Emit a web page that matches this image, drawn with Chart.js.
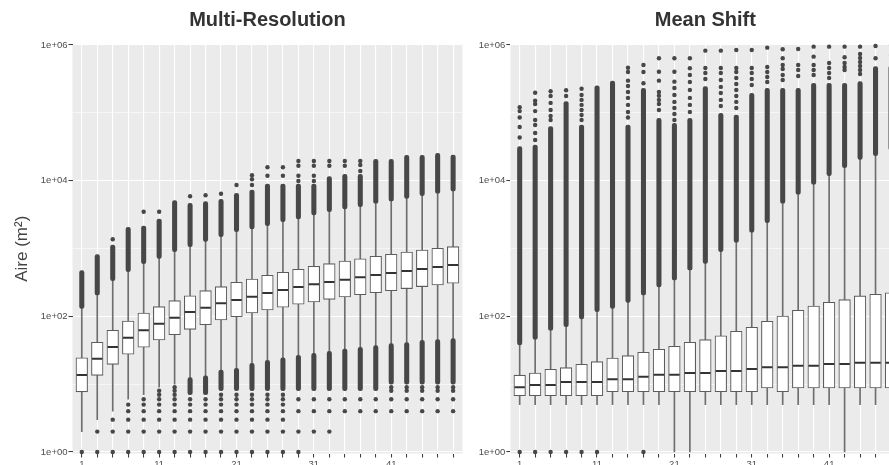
<!DOCTYPE html>
<html><head><meta charset="utf-8">
<script src="https://cdn.jsdelivr.net/npm/chart.js@4/dist/chart.umd.min.js"></script>
<style>
html,body{margin:0;padding:0;background:#fff;overflow:hidden;width:889px;height:465px;position:relative;}
#c1{position:absolute;left:0;top:0;}
#c2{position:absolute;left:470px;top:0;}
</style></head><body>
<canvas id="c1" width="470" height="465"></canvas>
<canvas id="c2" width="440" height="465"></canvas>
<script>
// ---------- categories & ticks ----------
const categories = [1,3,5,7,9,11,13,15,17,19,21,23,25,27,29,31,33,35,37,39,41,43,45,47,49];
const xTickLabels = [1,11,21,31,41];
const yGridValues = [1,10,100,1000,10000,100000,1000000];
const yTickLabels = ['1e+00','','1e+02','','1e+04','','1e+06'];
const panelTitles = ['Multi-Resolution','Mean Shift'];
const yAxisTitle = 'Aire (m²)';

// ---------- Multi-Resolution ----------
const mrQ1  = [7.7,13.5,19.6,27.6,35,44.8,53.6,64.4,75.3,88.3,98.8,112,124,136,151,163,178,193,208,223,239,256,274,290,307];
const mrMed = [13.6,23.7,35.3,48.4,62.3,77.9,95.5,116,134,156,174,195,221,244,271,297,321,347,376,407,435,466,499,534,571];
const mrQ3  = [24.5,41.4,62.3,85.4,112,139,170,201,239,274,318,355,403,446,494,547,597,654,707,768,822,889,951,1007,1064];
const mrWhiskLo = [2,3,4,6,7,9,10,12.5,13.3,16.2,17.1,20.3,22.5,24.5,26.7,28.5,30.5,33,35,36.9,39.5,40.9,44.4,45.3,46.8];
const mrWhiskHi = [131,206,335,455,597,717,898,1064,1277,1493,1770,1940,2170,2485,2723,3120,3490,3823,4134,4645,5013,5495,6010,6516,7040];
const mrHiBandTop = [471,811,1127,2055,2148,2723,5070,4645,4898,5318,6516,7295,8935,8935,8935,8935,11450,12420,12420,20650,20650,23660,23660,25330,23920];
const mrLoBandBottom = [null,null,null,null,null,null,null,7,7,8,8,8,8,8,8,8,8,8,8,8,10,10,10,10,10];
const mrLowDots = [[1],[1,2],[1,2,3],[1,2,3,4,5],[1,2,3,4,5,6],[1,2,3,4,5,6,7,8],[1,2,3,4,5,6,7,8,9],
  [1,2,3,4,5,6],[1,2,3,4,5,6],[1,2,3,4,5,6,7],[1,2,3,4,5,6,7],[1,2,3,4,5,6,7],[1,2,3,4,5,6,7],[1,2,3,4,5,6,7],
  [1,2,4,6],[2,4,6],[2,4,6],[4,6],[4,6],[4,6],[4,6,8,9],[4,6,8,9],[4,6,8,9],[4,6,8,9],[4,6,8,9]];
const mrHighDots = [[],[],[1367],[],[3490],[3490],[],[5888],[6084],[6430],[8635],[8635,10480,11990],[11840,15740],[11840,15740],
  [9890,11840,16630,19500],[9890,11840,16630,19500],[16630,19500],[16630,19500],[13900,17030,19500],[],[],[],[],[],[]];

// ---------- Mean Shift ----------
const msQ1  = [6.76,6.76,6.76,6.76,6.76,6.76,7.74,7.74,7.74,7.74,7.74,7.74,7.74,7.74,7.74,7.74,8.79,7.74,8.79,8.79,8.79,8.79,8.79,8.79,8.79];
const msMed = [9.0,9.7,9.7,10.8,10.8,10.8,11.8,11.8,12.9,13.8,13.8,14.6,14.6,15.6,15.6,16.7,17.7,17.7,18.7,18.7,19.8,19.8,20.7,20.7,20.7];
const msQ3  = [13.6,14.6,16.6,17.5,19.6,21.5,24.3,26.3,29.5,32.7,36.2,41.4,45.3,51.8,60.1,68.9,84.5,101,123,142,161,176,200,211,223];
const msWhiskLo = [5,5,5,5,5,5,5,5,5,5,1,1,5,5,5,5,5,5,5,5,5,1,5,5,5];
const msWhiskHi = [37.8,45.9,62.3,70.4,91.4,117,131,161,206,271,343,482,605,898,1235,1734,2400,4645,6300,8850,11840,15540,20650,23330,28300];
const msHiBandTop = [31700,33600,62500,146000,66200,251000,295000,66200,230000,83100,70100,83100,243000,98500,92900,194000,230000,230000,230000,273000,273000,273000,288000,479000,491000];
const msLoBandBottom = [null,null,null,null,null,null,null,null,null,null,null,null,null,null,null,null,null,null,null,null,null,null,null,null,null];
const msLowDots = [[1],[1],[1],[1],[1],[1],[],[],[1],[],[],[],[],[],[],[],[],[],[],[],[],[],[],[],[]];
const msHighDots = [
  [121000,106000,85300,61800,43300],
  [198000,151000,135000,106000,78500,66200,50500,39800],
  [208000,177000,140000,110000,89900,78500],
  [215000,177000],
  [227000,183000,155000,131000,110000,92900,78500],
  [],[],
  [463000,400000,298000,249000,203000,166000,131000,103000,85300],
  [508000,400000,273000],
  [637000,404000,298000,203000,179000,155000,135000,110000],
  [637000,404000,288000,232000,183000,145000,118000,96200,78500],
  [637000,454000,361000,285000,217000,166000,131000,103000],
  [825000,458000,387000,316000],
  [825000,458000,387000,305000,241000,196000,155000,126000],
  [845000,458000,400000,326000,266000,217000,177000,145000,118000],
  [845000,458000,387000,316000,257000],
  [914000,475000,400000,338000,285000],
  [865000,637000,508000,443000,361000,305000],
  [874000,508000,428000,349000],
  [945000,673000,508000,428000,361000],
  [945000,543000,458000,387000,326000],
  [945000,659000,543000,475000,428000],
  [945000,738000,644000,562000,491000,428000,374000],
  [968000,637000],
  [1000000,713000]
];

// ---------- helpers ----------
Chart.defaults.font.family = "'Liberation Sans', Arial, sans-serif";
const DOT = '#474747';

function rangeData(lo, hi){
  return categories.map((c,i)=> (lo[i]==null || hi[i]==null) ? null : {x:c, y:[lo[i], hi[i]]}).filter(d=>d);
}
function dotData(lists){
  const out=[]; lists.forEach((arr,i)=>arr.forEach(v=>out.push({x:categories[i], y:v}))); return out;
}
function buildDatasets(q1, med, q3, wLo, wHi, hiTop, loBottom, lowDots, highDots){
  return [
    {type:'bar', data:rangeData(wLo,wHi), backgroundColor:'#6e6e6e', barThickness:1, grouped:false, order:6},
    {type:'bar', data:rangeData(wHi,hiTop), backgroundColor:DOT, barThickness:4.4, borderRadius:2.2, borderSkipped:false, grouped:false, order:5, clip:false},
    {type:'bar', data:rangeData(loBottom,wLo), backgroundColor:DOT, barThickness:4.4, borderRadius:2.2, borderSkipped:false, grouped:false, order:5, clip:false},
    {type:'bar', data:rangeData(q1,q3), backgroundColor:'#ffffff', borderColor:'#5c5c5c', borderWidth:1.1, borderSkipped:false, barThickness:11.6, grouped:false, order:3},
    {type:'line', data:categories.map((c,i)=>({x:c,y:med[i]})), showLine:false, pointStyle:'line', pointRadius:5.2, pointHoverRadius:5.2, pointBorderWidth:2, pointBorderColor:'#333333', order:2},
    {type:'line', data:dotData(lowDots).concat(dotData(highDots)), showLine:false, pointRadius:2.2, pointHoverRadius:2.2, pointBackgroundColor:DOT, pointBorderWidth:0, order:1, clip:false}
  ];
}

const panelBg = {
  id:'panelBg',
  beforeDraw(chart){
    const {ctx, chartArea:a} = chart;
    ctx.save(); ctx.fillStyle='#EBEBEB';
    ctx.fillRect(a.left, a.top, a.right-a.left, a.bottom-a.top);
    ctx.restore();
  }
};

function makeOptions(title, yWidth, padRight, showYTitle){
  return {
    responsive:false, animation:false, devicePixelRatio:1,
    layout:{padding:{left:0, right:padRight, top:0, bottom:0}},
    plugins:{
      legend:{display:false}, tooltip:{enabled:false},
      title:{display:true, text:title, fullSize:false, color:'#333333',
        font:{size:20, weight:'bold'}, padding:{top:8, bottom:12}}
    },
    scales:{
      x:{
        type:'linear', min:-0.2, max:50.2, offset:false,
        afterBuildTicks:(s)=>{ s.ticks = categories.map(v=>({value:v})); },
        afterFit:(s)=>{ s.height = 11.5; },
        border:{display:false},
        grid:{offset:false, color:'#ffffff', lineWidth:1.1, drawTicks:true, tickLength:4, tickColor:'#333333', tickWidth:1},
        ticks:{autoSkip:false, maxRotation:0, padding:1, color:'#4d4d4d', font:{size:9.5},
          callback:(v)=> xTickLabels.includes(v) ? String(v) : ''}
      },
      y:{
        type:'logarithmic', min:0.9504, max:1.0345e6,
        afterBuildTicks:(s)=>{ s.ticks = yGridValues.map(v=>({value:v})); },
        afterFit:(s)=>{ s.width = yWidth; },
        border:{display:false},
        grid:{color:'#ffffff',
          lineWidth:(c)=> (c.tick && yTickLabels[yGridValues.indexOf(c.tick.value)]) ? 1.1 : 0.55,
          drawTicks:true, tickLength:4, tickWidth:1,
          tickColor:(c)=> (c.tick && yTickLabels[yGridValues.indexOf(c.tick.value)]) ? '#333333' : 'rgba(0,0,0,0)'},
        ticks:{autoSkip:false, padding:1, color:'#4d4d4d', font:{size:9.5},
          callback:(v)=> yTickLabels[yGridValues.indexOf(v)] || ''},
        title:{display:showYTitle, text:yAxisTitle, color:'#444444', font:{size:17}, padding:{top:12, bottom:0}}
      }
    }
  };
}

new Chart(document.getElementById('c1'), {
  type:'bar',
  data:{datasets: buildDatasets(mrQ1, mrMed, mrQ3, mrWhiskLo, mrWhiskHi, mrHiBandTop, mrLoBandBottom, mrLowDots, mrHighDots)},
  options: makeOptions(panelTitles[0], 72.5, 7.6, true),
  plugins:[panelBg]
});
new Chart(document.getElementById('c2'), {
  type:'bar',
  data:{datasets: buildDatasets(msQ1, msMed, msQ3, msWhiskLo, msWhiskHi, msHiBandTop, msLoBandBottom, msLowDots, msHighDots)},
  options: makeOptions(panelTitles[1], 40.4, 9.7, false),
  plugins:[panelBg]
});
</script>
</body></html>
